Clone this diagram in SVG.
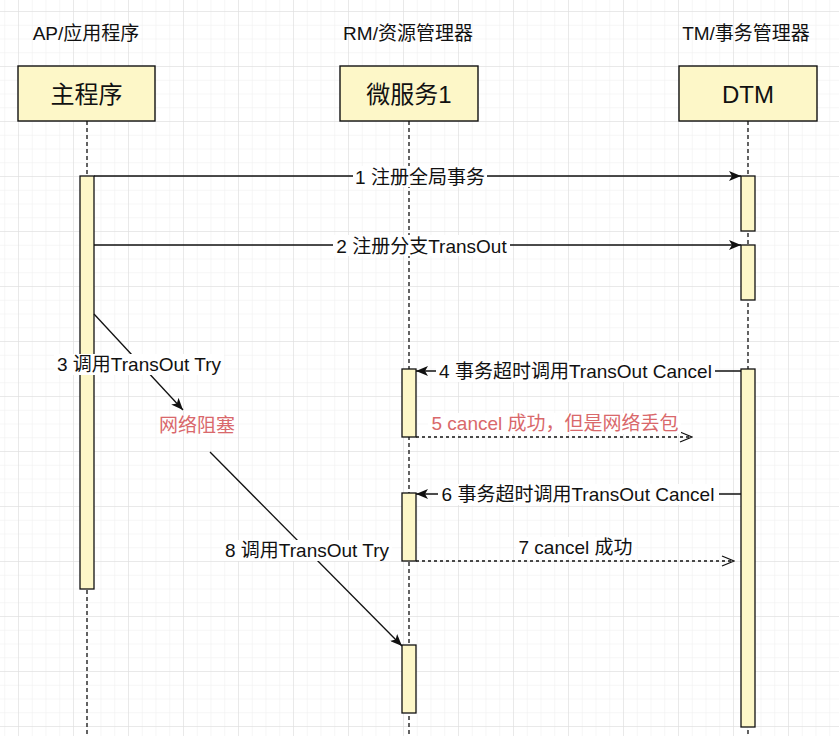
<svg xmlns="http://www.w3.org/2000/svg" width="839" height="736" viewBox="0 0 839 736">
<style>
.t{font-family:"Liberation Sans","Noto Sans CJK SC",sans-serif;fill:#111;}
.hdr{font-size:19px;text-anchor:middle;}
.box{fill:#fdf7c8;stroke:#111;stroke-width:1.4;}
.bl{font-size:24px;text-anchor:middle;}
.life{stroke:#111;stroke-width:1.3;stroke-dasharray:4 3;fill:none;}
.act{fill:#fdf7c8;stroke:#111;stroke-width:1.3;}
.ln{stroke:#111;stroke-width:1.3;fill:none;}
.dl{stroke:#111;stroke-width:1.3;fill:none;stroke-dasharray:3 3;}
.lbl{font-size:19px;text-anchor:middle;}
.red{fill:#d9686b;}
.bg{fill:#fff;}
</style>
<defs>
<pattern id="gmin" width="13.75" height="13.75" patternUnits="userSpaceOnUse" x="4.25" y="-2.75">
<path d="M13.75 0H0V13.75" fill="none" stroke="#eeeeee" stroke-width="1"/>
</pattern>
<pattern id="gmaj" width="55" height="55" patternUnits="userSpaceOnUse" x="18" y="11">
<path d="M55 0H0V55" fill="none" stroke="#dcdcdc" stroke-width="1"/>
</pattern>
<marker id="fa" viewBox="0 0 12 10" refX="12" refY="5" markerWidth="12" markerHeight="10" markerUnits="userSpaceOnUse" orient="auto">
<path d="M0 0L12 5L0 10L3 5Z" fill="#111"/>
</marker>
<marker id="oa" viewBox="0 0 14 12" refX="13" refY="6" markerWidth="14" markerHeight="12" markerUnits="userSpaceOnUse" orient="auto">
<path d="M1 1L13 6L1 11" fill="none" stroke="#111" stroke-width="1.3"/>
</marker>
</defs>
<rect width="839" height="736" fill="#fff"/>
<rect width="839" height="736" fill="url(#gmin)"/>
<rect width="839" height="736" fill="url(#gmaj)"/>

<g id="ap">
<text class="t hdr" x="86" y="40">AP/应用程序</text>
<line class="life" x1="87" y1="121" x2="87" y2="736"/>
<rect class="box" x="18" y="66" width="137" height="55"/>
<text class="t bl" x="86.5" y="103">主程序</text>
<rect class="act" x="80" y="176" width="14" height="413"/>
</g>

<g id="rm">
<text class="t hdr" x="408" y="40">RM/资源管理器</text>
<line class="life" x1="409" y1="121" x2="409" y2="736"/>
<rect class="box" x="340" y="66" width="138" height="55"/>
<text class="t bl" x="409" y="103">微服务1</text>
<rect class="act" x="402" y="369" width="14" height="68"/>
<rect class="act" x="402" y="493" width="14" height="68"/>
<rect class="act" x="402" y="645" width="14" height="68"/>
</g>

<g id="tm">
<text class="t hdr" x="746" y="40">TM/事务管理器</text>
<line class="life" x1="748" y1="121" x2="748" y2="736"/>
<rect class="box" x="679" y="66" width="138" height="55"/>
<text class="t bl" x="748" y="103">DTM</text>
<rect class="act" x="741" y="176" width="14" height="55"/>
<rect class="act" x="741" y="245" width="14" height="55"/>
<rect class="act" x="741" y="369" width="14" height="358"/>
</g>

<g id="connectors">
<line class="ln" x1="94" y1="176" x2="741" y2="176" marker-end="url(#fa)"/>
<rect class="bg" x="353" y="166" width="134" height="21"/>
<text class="t lbl" x="420" y="184">1 注册全局事务</text>

<line class="ln" x1="94" y1="245" x2="741" y2="245" marker-end="url(#fa)"/>
<rect class="bg" x="333" y="235" width="177" height="21"/>
<text class="t lbl" x="421.5" y="253">2 注册分支TransOut</text>

<line class="ln" x1="94" y1="314" x2="183" y2="410" marker-end="url(#fa)"/>
<rect class="bg" x="54" y="354" width="170" height="21"/>
<text class="t lbl" x="139" y="371">3 调用TransOut Try</text>

<text class="t lbl red" x="197" y="432">网络阻塞</text>

<line class="ln" x1="741" y1="371" x2="416" y2="371" marker-end="url(#fa)"/>
<rect class="bg" x="436" y="361" width="279" height="21"/>
<text class="t lbl" x="575.5" y="378">4 事务超时调用TransOut Cancel</text>

<line class="dl" x1="416" y1="437" x2="692" y2="437" marker-end="url(#oa)"/>
<rect class="bg" x="428" y="413" width="253" height="21"/>
<text class="t lbl red" x="555" y="430">5 cancel 成功，但是网络丢包</text>

<line class="ln" x1="741" y1="494" x2="416" y2="494" marker-end="url(#fa)"/>
<rect class="bg" x="438" y="484" width="281" height="21"/>
<text class="t lbl" x="578" y="501">6 事务超时调用TransOut Cancel</text>

<line class="dl" x1="416" y1="561" x2="734" y2="561" marker-end="url(#oa)"/>
<rect class="bg" x="516" y="537" width="119" height="21"/>
<text class="t lbl" x="575.5" y="554">7 cancel 成功</text>

<line class="ln" x1="210" y1="452" x2="402" y2="646" marker-end="url(#fa)"/>
<rect class="bg" x="222" y="540" width="170" height="21"/>
<text class="t lbl" x="307" y="557">8 调用TransOut Try</text>
</g>
</svg>
